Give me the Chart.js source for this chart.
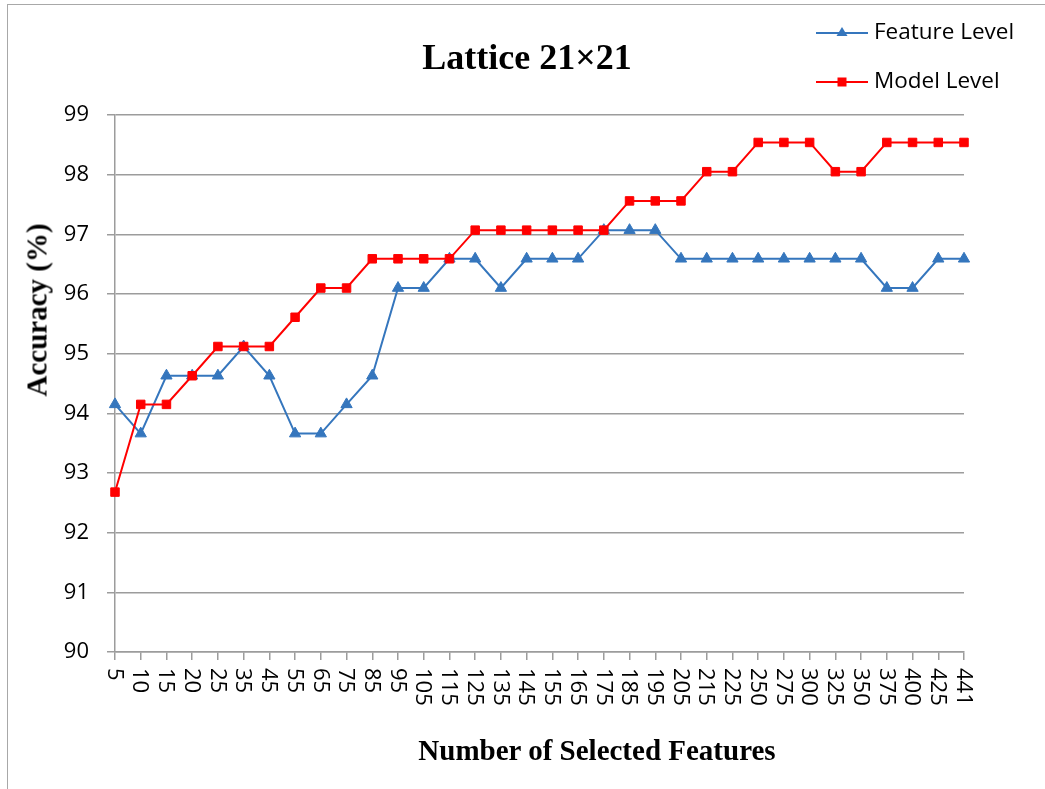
<!DOCTYPE html>
<html>
<head>
<meta charset="utf-8">
<script src="https://cdn.jsdelivr.net/npm/chart.js@4"></script>
<style>
  body { margin: 0; background: #fff; }
  #wrap { position: relative; width: 1045px; height: 789px; overflow: hidden; background: #fff; }
  #frame { position: absolute; left: 7px; top: 4px; width: 1100px; height: 900px; border: 1.5px solid #a8a8a8; }
  canvas { position: absolute; left: 0; top: 0; }
  .serif { position: absolute; font-family: "Liberation Serif", "Times New Roman", serif; font-weight: bold; color: #000; white-space: nowrap; }
  #title { left: 527px; top: 39px; font-size: 36px; line-height: 36px; transform: translateX(-50%); }
  #xtitle { left: 597px; top: 736px; font-size: 29px; line-height: 29px; transform: translateX(-50%); }
  #ytitle { left: 37px; top: 310px; font-size: 29px; line-height: 29px; transform: translate(-50%, -50%) rotate(-90deg); }
  .leg { position: absolute; left: 816px; font-family: "Open Sans", sans-serif; font-size: 22.5px; line-height: 22px; color: #000; white-space: nowrap; }
  .leg svg { vertical-align: middle; margin-right: 6px; }
</style>
</head>
<body>
<div id="wrap">
  <div id="frame"></div>
  <canvas id="chart" width="1045" height="789"></canvas>
  <div id="title" class="serif">Lattice 21×21</div>
  <div id="xtitle" class="serif">Number of Selected Features</div>
  <div id="ytitle" class="serif">Accuracy (%)</div>
  <div class="leg" style="top:20px">
    <svg width="52" height="14"><line x1="0" y1="7" x2="52" y2="7" stroke="#3576bd" stroke-width="2"/><polygon points="26,1 31.5,10 20.5,10" fill="#3576bd"/></svg>Feature Level
  </div>
  <div class="leg" style="top:69px">
    <svg width="52" height="14"><line x1="0" y1="7" x2="52" y2="7" stroke="#ff0000" stroke-width="2"/><rect x="21.5" y="2.5" width="9" height="9" fill="#ff0000"/></svg>Model Level
  </div>
</div>
<script>
// Number of selected features (x categories)
const categories = ['5', '10', '15', '20', '25', '35', '45', '55', '65', '75', '85', '95', '105', '115', '125',
    '135', '145', '155', '165', '175', '185', '195', '205', '215', '225', '250', '275', '300', '325', '350',
    '375', '400', '425', '441'];

// Accuracy (%) per series
const featureLevel = [94.15, 93.66, 94.63, 94.63, 94.63, 95.12, 94.63, 93.66, 93.66, 94.15, 94.63, 96.10,
    96.10, 96.59, 96.59, 96.10, 96.59, 96.59, 96.59, 97.07, 97.07, 97.07, 96.59, 96.59, 96.59, 96.59,
    96.59, 96.59, 96.59, 96.59, 96.10, 96.10, 96.59, 96.59];
const modelLevel = [92.68, 94.15, 94.15, 94.63, 95.12, 95.12, 95.12, 95.61, 96.10, 96.10, 96.59, 96.59,
    96.59, 96.59, 97.07, 97.07, 97.07, 97.07, 97.07, 97.07, 97.56, 97.56, 97.56, 98.05, 98.05, 98.54,
    98.54, 98.54, 98.05, 98.05, 98.54, 98.54, 98.54, 98.54];

// y axis range
const yMin = 90;
const yMax = 99;

const gridColor = '#9c9c9c';
const tickFont = { family: 'Open Sans', size: 22 };

// x labels read top-to-bottom (rotated clockwise), so draw them ourselves at the scale's tick pixels
const xLabelPlugin = {
    id: 'xLabels',
    afterDraw(chart) {
        const scale = chart.scales.x;
        const ctx = chart.ctx;
        ctx.save();
        ctx.font = `${tickFont.size}px "${tickFont.family}"`;
        ctx.fillStyle = '#000';
        ctx.textAlign = 'left';
        ctx.textBaseline = 'middle';
        scale.ticks.forEach((t, i) => {
            const x = scale.getPixelForTick(i);
            ctx.save();
            ctx.translate(x - 1, chart.chartArea.bottom + 16);
            ctx.rotate(Math.PI / 2);
            ctx.fillText(scale.getLabelForValue(t.value), 0, 0);
            ctx.restore();
        });
        ctx.restore();
    }
};

const ctx = document.getElementById('chart').getContext('2d');
new Chart(ctx, {
    type: 'line',
    data: {
        labels: categories,
        datasets: [{
            label: 'Feature Level',
            data: featureLevel,
            borderColor: '#3576bd',
            backgroundColor: '#3576bd',
            borderWidth: 2,
            pointStyle: 'triangle',
            pointRadius: 6.5,
            pointBorderWidth: 1,
            tension: 0,
            clip: false,
            order: 1
        }, {
            label: 'Model Level',
            data: modelLevel,
            borderColor: '#ff0000',
            backgroundColor: '#ff0000',
            borderWidth: 2,
            pointStyle: 'rect',
            pointRadius: 6,
            pointBorderWidth: 1,
            tension: 0,
            clip: false,
            order: 0
        }]
    },
    options: {
        responsive: false,
        animation: false,
        layout: { padding: { top: 115, right: 81, bottom: 0, left: 0 } },
        plugins: {
            legend: { display: false },
            title: { display: false },
            tooltip: { enabled: false }
        },
        scales: {
            x: {
                offset: false,
                grid: { drawOnChartArea: false, drawTicks: true, tickLength: 8, color: gridColor, lineWidth: 1.5 },
                border: { display: true, color: gridColor, width: 1.5 },
                ticks: { display: false, autoSkip: false },
                afterFit(scale) { scale.height = 137; }
            },
            y: {
                min: yMin,
                max: yMax,
                grid: { color: gridColor, lineWidth: 1.5, tickLength: 8 },
                border: { display: true, color: gridColor, width: 1.5 },
                ticks: { stepSize: 1, padding: 18, color: '#000', font: tickFont },
                afterFit(scale) { scale.width = 115; }
            }
        }
    },
    plugins: [xLabelPlugin]
});
</script>
</body>
</html>
